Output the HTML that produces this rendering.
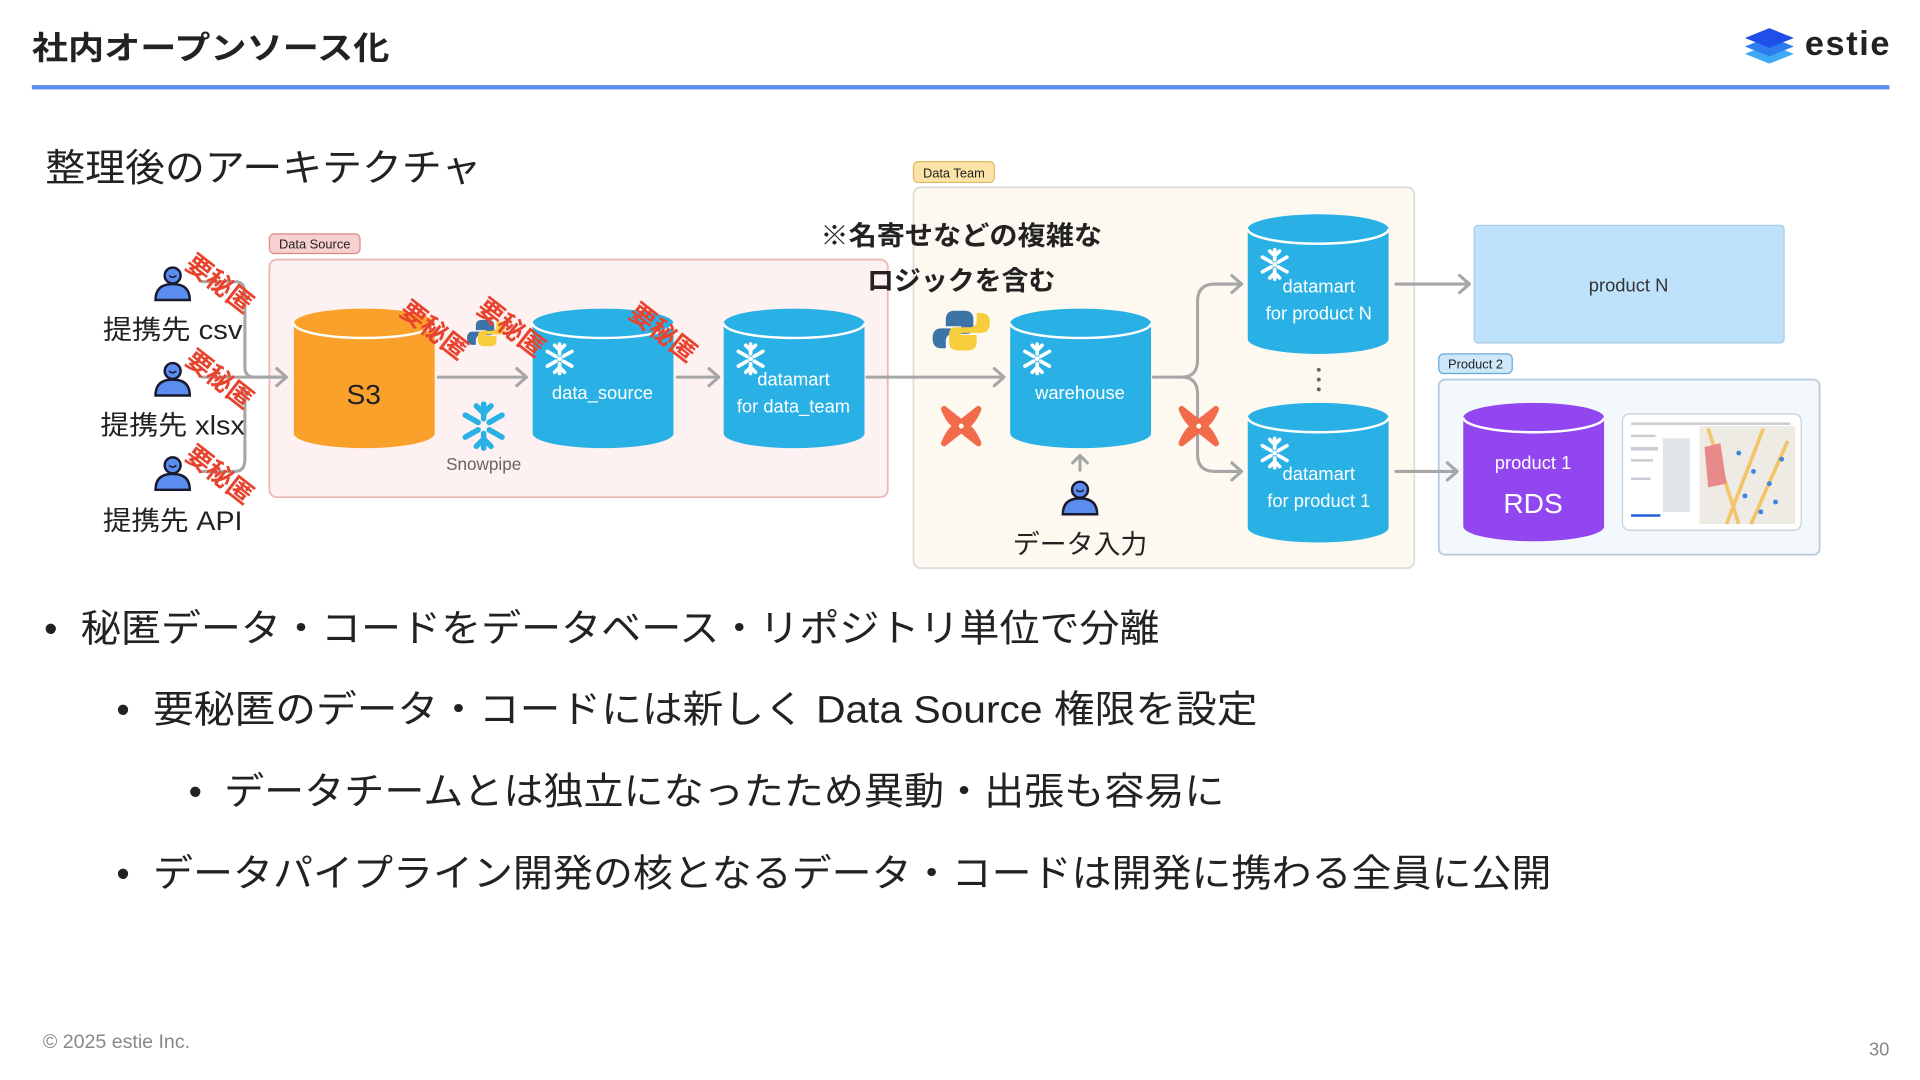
<!DOCTYPE html>
<html><head><meta charset="utf-8"><style>
html,body{margin:0;padding:0;background:#fff;width:1920px;height:1080px;overflow:hidden}
svg{display:block}
text{font-family:"Liberation Sans","Noto Sans CJK JP",sans-serif}
.red{fill:#E8432E;font-weight:bold;font-size:21px}
.arr{stroke:#A6A6A6;stroke-width:2.5;fill:none;stroke-linecap:round;stroke-linejoin:round}
.wt{fill:#fff;font-size:15px;text-anchor:middle}
</style></head><body>
<svg width="1920" height="1080" viewBox="0 0 1568 882" xmlns="http://www.w3.org/2000/svg">
<defs>
<g id="person"><circle cx="0" cy="-8" r="6.5" fill="#5B8DEF" stroke="#1a1a2e" stroke-width="2"/><path d="M-3,-8 q3,3 6,0" stroke="#1a1a2e" stroke-width="1.2" fill="none"/><path d="M-14,12 q0,-13 14,-13 q14,0 14,13 z" fill="#5B8DEF" stroke="#1a1a2e" stroke-width="2"/></g>
<g id="snow" stroke="#fff" stroke-width="3" stroke-linecap="round" fill="none"><path d="M0,-12 V-4 M0,4 V12 M-10,-6 L-3,-2 M3,2 L10,6 M-10,6 L-3,2 M3,-2 L10,-6 M-4,-11 L0,-7 L4,-11 M-4,11 L0,7 L4,11"/><circle r="2" fill="#fff" stroke="none"/></g>
<g id="dbt"><path d="M-14,-14 Q-4,-6 0,-3 Q4,-6 14,-14 Q10,-4 4,0 Q10,4 14,14 Q4,6 0,3 Q-4,6 -14,14 Q-10,4 -4,0 Q-10,-4 -14,-14z" fill="#F26B4A" stroke="#F26B4A" stroke-width="5" stroke-linejoin="round"/><circle r="2" fill="#fff"/></g>
<g id="py"><path d="M0,-18 h-6 q-8,0 -8,8 v6 h14 v2 h-18 q-8,0 -8,9 q0,9 8,9 h4 v-6 q0,-7 7,-7 h12 q6,0 6,-6 v-7 q0,-8 -8,-8z" fill="#3D74A8"/><path d="M0,18 h6 q8,0 8,-8 v-6 h-14 v-2 h18 q8,0 8,-9 q0,-9 -8,-9 h-4 v6 q0,7 -7,7 h-12 q-6,0 -6,6 v7 q0,8 8,8z" fill="#F7CD3B"/></g>
</defs>

<text x="26" y="48" font-size="26" font-weight="bold" fill="#222" textLength="292" lengthAdjust="spacingAndGlyphs">社内オープンソース化</text>
<rect x="26" y="69.5" width="1517" height="3.5" fill="#5B8DEF"/>
<g transform="translate(1445,38)">
<path d="M-20,6 L0,-2 L20,6 L0,14z" fill="#3FA9F5"/>
<path d="M-20,0 L0,-8 L20,0 L0,8z" fill="#2F7BF0"/>
<path d="M-20,-7 L0,-15 L20,-7 L0,1z" fill="#1F4FE8"/>
</g>
<text x="1474" y="45" font-size="28" font-weight="bold" fill="#222" textLength="69">estie</text>

<text x="37" y="148" font-size="31" fill="#222" textLength="356" lengthAdjust="spacingAndGlyphs">整理後のアーキテクチャ</text>

<rect x="220" y="212" width="505" height="194" rx="6" fill="#FDF1F1" stroke="#EBB8B8" stroke-width="1.5"/>
<rect x="220" y="191" width="74" height="16" rx="4" fill="#F9D0D0" stroke="#E08888"/>
<text x="257" y="203" font-size="10.5" text-anchor="middle" fill="#222">Data Source</text>
<rect x="746" y="153" width="409" height="311" rx="6" fill="#FDF9F0" stroke="#DDDDDD" stroke-width="1.5"/>
<rect x="746" y="132" width="66" height="17" rx="4" fill="#FBE3A8" stroke="#E0B860"/>
<text x="779" y="145" font-size="10.5" text-anchor="middle" fill="#222">Data Team</text>
<rect x="1204" y="184" width="253" height="96" rx="3" fill="#BFE2FB" stroke="#A8CBE6"/>
<text x="1330" y="238" font-size="15" text-anchor="middle" fill="#333">product N</text>
<rect x="1175" y="310" width="311" height="143" rx="5" fill="#F3F8FD" stroke="#B8CCDD" stroke-width="1.5"/>
<rect x="1175" y="289" width="60" height="16" rx="4" fill="#CDE8FA" stroke="#6AA8D8"/>
<text x="1205" y="301" font-size="10.5" text-anchor="middle" fill="#222">Product 2</text>
<rect x="1325" y="338" width="146" height="95" rx="6" fill="#fff" stroke="#C8CED6"/>
<rect x="1388" y="348" width="78" height="80" fill="#EDEBE3"/>
<path d="M1395,350 L1420,428 M1440,350 L1410,428 M1460,360 L1430,428" stroke="#F3C56A" stroke-width="3"/>
<path d="M1392,365 L1405,362 L1410,395 L1395,398z" fill="#E88A8A"/>
<g fill="#3A86E0"><circle cx="1420" cy="370" r="2"/><circle cx="1432" cy="385" r="2"/><circle cx="1445" cy="395" r="2"/><circle cx="1425" cy="405" r="2"/><circle cx="1450" cy="410" r="2"/><circle cx="1438" cy="418" r="2"/><circle cx="1455" cy="375" r="2"/></g>
<g fill="#C9CDD3"><rect x="1332" y="345" width="130" height="2"/><rect x="1332" y="355" width="20" height="2"/><rect x="1332" y="365" width="22" height="3"/><rect x="1358" y="358" width="22" height="60" fill="#E1E5EA"/><rect x="1332" y="375" width="18" height="2"/><rect x="1332" y="390" width="16" height="2"/></g>
<rect x="1332" y="420" width="24" height="2" fill="#1F5FD6"/>

<g class="arr">
<path d="M165,230 H192 Q200,230 200,240 V300 Q200,308 208,308 H233"/>
<path d="M165,308 H233"/>
<path d="M165,385 H192 Q200,385 200,375 V316"/>
<path d="M226,301 L234,308 L226,315"/>
<path d="M358,308 H430 M422,301 L430,308 L422,315"/>
<path d="M553,308 H587 M579,301 L587,308 L579,315"/>
<path d="M708,308 H820 M812,301 L820,308 L812,315"/>
<path d="M942,308 H965 Q978,308 978,294 V246 Q978,232 992,232 H1014 M1006,225 L1014,232 L1006,239"/>
<path d="M965,308 Q978,308 978,322 V371 Q978,385 992,385 H1014 M1006,378 L1014,385 L1006,392"/>
<path d="M1140,232 H1200 M1192,225 L1200,232 L1192,239"/>
<path d="M1140,385 H1190 M1182,378 L1190,385 L1182,392"/>
<path d="M882,384 V372 M876,378 L882,372 L888,378"/>
</g>
<g fill="#666"><circle cx="1077" cy="302" r="1.6"/><circle cx="1077" cy="310" r="1.6"/><circle cx="1077" cy="318" r="1.6"/></g>

<g>
<path d="M240,264 A57.5,12 0 0 1 355,264 V354 A57.5,12 0 0 1 240,354Z" fill="#F9A12A"/>
<path d="M240,264 A57.5,12 0 0 0 355,264" stroke="#fff" stroke-width="2" fill="none"/>
<text x="297" y="330" font-size="23" text-anchor="middle" fill="#222">S3</text>
</g>
<g fill="#29B0E4">
<path d="M435,264 A57.5,12 0 0 1 550,264 V354 A57.5,12 0 0 1 435,354Z"/>
<path d="M591,264 A57.5,12 0 0 1 706,264 V354 A57.5,12 0 0 1 591,354Z"/>
<path d="M825,264 A57.5,12 0 0 1 940,264 V354 A57.5,12 0 0 1 825,354Z"/>
<path d="M1019,187 A57.5,12 0 0 1 1134,187 V277 A57.5,12 0 0 1 1019,277Z"/>
<path d="M1019,341 A57.5,12 0 0 1 1134,341 V431 A57.5,12 0 0 1 1019,431Z"/>
</g>
<path d="M1195,341 A57.5,12 0 0 1 1310,341 V430 A57.5,12 0 0 1 1195,430Z" fill="#9146F0"/>
<g stroke="#fff" stroke-width="2" fill="none">
<path d="M435,264 A57.5,12 0 0 0 550,264"/><path d="M591,264 A57.5,12 0 0 0 706,264"/>
<path d="M825,264 A57.5,12 0 0 0 940,264"/><path d="M1019,187 A57.5,12 0 0 0 1134,187"/>
<path d="M1019,341 A57.5,12 0 0 0 1134,341"/><path d="M1195,341 A57.5,12 0 0 0 1310,341"/>
</g>
<use href="#snow" x="457" y="293"/><use href="#snow" x="613" y="293"/><use href="#snow" x="847" y="293"/>
<use href="#snow" x="1041" y="216"/><use href="#snow" x="1041" y="370"/>
<text class="wt" x="492" y="326">data_source</text>
<text class="wt" x="648" y="315">datamart</text><text class="wt" x="648" y="337">for data_team</text>
<text class="wt" x="882" y="326">warehouse</text>
<text class="wt" x="1077" y="239">datamart</text><text class="wt" x="1077" y="261">for product N</text>
<text class="wt" x="1077" y="392">datamart</text><text class="wt" x="1077" y="414">for product 1</text>
<text class="wt" x="1252" y="383">product 1</text>
<text x="1252" y="419" font-size="23" text-anchor="middle" fill="#fff">RDS</text>

<g transform="translate(395,348) scale(1.5)"><g stroke="#29B0E4" stroke-width="3" stroke-linecap="round" fill="none"><path d="M0,-12 V-4 M0,4 V12 M-10,-6 L-3,-2 M3,2 L10,6 M-10,6 L-3,2 M3,-2 L10,-6 M-4,-11 L0,-7 L4,-11 M-4,11 L0,7 L4,11"/></g></g>
<text x="395" y="384" font-size="14" text-anchor="middle" fill="#666">Snowpipe</text>

<g transform="translate(785,270) scale(0.9)"><use href="#py"/></g>
<g transform="translate(397,272) scale(0.6)"><use href="#py"/></g>
<use href="#dbt" x="785" y="348"/><use href="#dbt" x="979" y="348"/>

<use href="#person" x="141" y="233"/><use href="#person" x="141" y="311"/><use href="#person" x="141" y="388"/>
<use href="#person" x="882" y="408"/>
<g font-size="22" fill="#222" text-anchor="middle">
<text x="141" y="277" textLength="114" lengthAdjust="spacingAndGlyphs">提携先 csv</text>
<text x="141" y="355" textLength="118" lengthAdjust="spacingAndGlyphs">提携先 xlsx</text>
<text x="141" y="433" textLength="114" lengthAdjust="spacingAndGlyphs">提携先 API</text>
<text x="882" y="452">データ入力</text>
<text x="785" y="200" font-weight="bold" textLength="230" lengthAdjust="spacingAndGlyphs">※名寄せなどの複雑な</text>
<text x="785" y="237" font-weight="bold">ロジックを含む</text>
</g>

<g class="red">
<text transform="translate(150,218) rotate(38)">要秘匿</text>
<text transform="translate(150,296) rotate(38)">要秘匿</text>
<text transform="translate(150,374) rotate(38)">要秘匿</text>
<text transform="translate(325,256) rotate(38)">要秘匿</text>
<text transform="translate(388,254) rotate(38)">要秘匿</text>
<text transform="translate(512,258) rotate(38)">要秘匿</text>
</g>

<g font-size="31" fill="#222">
<text x="36" y="524">•</text><text x="66" y="524" textLength="881" lengthAdjust="spacingAndGlyphs">秘匿データ・コードをデータベース・リポジトリ単位で分離</text>
<text x="95" y="590">•</text><text x="125" y="590" textLength="902" lengthAdjust="spacingAndGlyphs">要秘匿のデータ・コードには新しく Data Source 権限を設定</text>
<text x="154" y="657">•</text><text x="183" y="657" textLength="817" lengthAdjust="spacingAndGlyphs">データチームとは独立になったため異動・出張も容易に</text>
<text x="95" y="724">•</text><text x="125" y="724" textLength="1142" lengthAdjust="spacingAndGlyphs">データパイプライン開発の核となるデータ・コードは開発に携わる全員に公開</text>
</g>

<text x="35" y="856" font-size="16" fill="#888">© 2025 estie Inc.</text>
<text x="1543" y="862" font-size="15" fill="#888" text-anchor="end">30</text>
</svg>
</body></html>
